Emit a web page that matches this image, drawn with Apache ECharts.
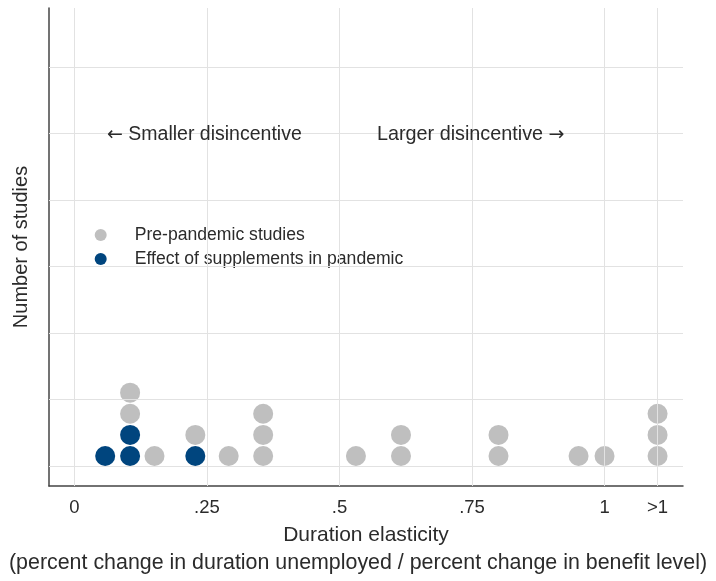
<!DOCTYPE html>
<html>
<head>
<meta charset="utf-8">
<script src="https://cdn.jsdelivr.net/npm/echarts@6/dist/echarts.min.js"></script>
<style>
  html, body { margin: 0; padding: 0; background: #fff; }
  #chart { width: 716px; height: 581px; }
</style>
</head>
<body>
<div id="chart"></div>
<script>
// ---- Data ----
const tickValues = [0, 0.25, 0.5, 0.75, 1, 1.1];
const tickLabels = ['0', '.25', '.5', '.75', '1', '>1'];
// Pre-pandemic studies: elasticity and stack level (count position in column)
const preX     = [0.105, 0.105, 0.151, 0.228, 0.291, 0.356, 0.356, 0.356, 0.531, 0.616, 0.616, 0.800, 0.800, 0.951, 1.0, 1.1, 1.1, 1.1];
const preLevel = [3, 4, 1, 2, 1, 1, 2, 3, 1, 1, 2, 1, 2, 1, 1, 1, 2, 3];
// Effect of supplements in pandemic
const panX     = [0.058, 0.105, 0.105, 0.228];
const panLevel = [1, 1, 2, 1];
// Horizontal grid lines (in stack-level units)
const yGridValues = [0.526, 3.675, 6.824, 9.973, 13.12, 16.27, 19.42];

const seriesNames = ['Pre-pandemic studies', 'Effect of supplements in pandemic'];
const colors = ['#bfbfbf', '#00457e'];

const FONT = '"Liberation Sans", Arial, Helvetica, sans-serif';
const ARROWFONT = '"DejaVu Sans", sans-serif';
const TXT = '#2b2b2b';

const chart = echarts.init(document.getElementById('chart'), null, { renderer: 'canvas' });

const gridLineData = []
  .concat(yGridValues.map(v => ({ yAxis: v })))
  .concat(tickValues.map(v => ({ xAxis: v })));

const option = {
  animation: false,
  backgroundColor: '#fff',
  grid: { left: 49, right: 33, top: 8, bottom: 95, containLabel: false },
  xAxis: {
    type: 'value',
    min: -0.048,
    max: 1.148,
    axisLine: { show: true, onZero: false, lineStyle: { color: '#444', width: 1.5 } },
    axisTick: { show: false },
    splitLine: { show: false },
    axisLabel: {
      customValues: tickValues,
      margin: 12,
      fontSize: 18.5,
      fontFamily: FONT,
      color: TXT,
      formatter: function (v) {
        const i = tickValues.findIndex(t => Math.abs(t - v) < 1e-6);
        return i >= 0 ? tickLabels[i] : '';
      }
    },
    name: 'Duration elasticity',
    nameLocation: 'middle',
    nameGap: 39,
    nameTextStyle: { fontSize: 21, fontFamily: FONT, color: TXT }
  },
  yAxis: {
    type: 'value',
    min: -0.42,
    max: 22.22,
    axisLine: { show: true, onZero: false, lineStyle: { color: '#444', width: 1.5 } },
    axisTick: { show: false },
    axisLabel: { show: false },
    splitLine: { show: false },
    name: 'Number of studies',
    nameLocation: 'middle',
    nameRotate: 90,
    nameGap: 18,
    nameTextStyle: { fontSize: 20, fontFamily: FONT, color: TXT }
  },
  legend: {
    orient: 'vertical',
    left: 94.7,
    top: 226,
    padding: 0,
    itemWidth: 12,
    itemHeight: 12,
    itemGap: 6,
    icon: 'circle',
    data: seriesNames,
    textStyle: { fontSize: 17.6, lineHeight: 18, fontFamily: FONT, color: TXT, padding: [0, 0, 0, 23] }
  },
  graphic: [
    {
      type: 'text', left: 107, top: 125, z: 100,
      style: {
        text: '{a|\u2190} Smaller disincentive',
        fontSize: 19.5, fontFamily: FONT, fill: TXT,
        rich: { a: { fontFamily: ARROWFONT, fontSize: 19, fill: TXT } }
      }
    },
    {
      type: 'text', left: 377, top: 125, z: 100,
      style: {
        text: 'Larger disincentive {a|\u2192}',
        fontSize: 19.8, fontFamily: FONT, fill: TXT,
        rich: { a: { fontFamily: ARROWFONT, fontSize: 19, fill: TXT } }
      }
    },
    {
      type: 'text', x: 358, y: 563, z: 100,
      style: {
        text: '(percent change in duration unemployed / percent change in benefit level)',
        fontSize: 21.4, fontFamily: FONT, fill: TXT, align: 'center', verticalAlign: 'middle'
      }
    }
  ],
  series: [
    {
      name: 'grid',
      type: 'line',
      data: [],
      silent: true,
      z: 1,
      markLine: {
        silent: true,
        symbol: ['none', 'none'],
        label: { show: false },
        lineStyle: { color: '#e2e2e2', width: 1, type: 'solid' },
        emphasis: { disabled: true },
        data: gridLineData
      }
    },
    {
      name: seriesNames[0],
      type: 'scatter',
      z: 3,
      symbol: 'circle',
      symbolSize: 20,
      itemStyle: { color: colors[0], opacity: 1 },
      data: preX.map((x, i) => [x, preLevel[i]])
    },
    {
      name: seriesNames[1],
      type: 'scatter',
      z: 3,
      symbol: 'circle',
      symbolSize: 20,
      itemStyle: { color: colors[1], opacity: 1 },
      data: panX.map((x, i) => [x, panLevel[i]])
    }
  ]
};

chart.setOption(option);
</script>
</body>
</html>
